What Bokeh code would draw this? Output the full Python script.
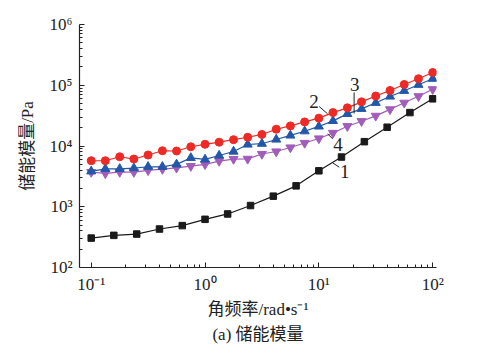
from bokeh.plotting import figure
from bokeh.models import Range1d, FixedTicker, CustomJSTickFormatter, Title
from bokeh.core.properties import value
from bokeh.embed import file_html
from bokeh.resources import INLINE

# ---- data ----
freq_fine = [0.1, 0.133, 0.178, 0.237, 0.316, 0.422, 0.562, 0.750, 1.0, 1.33, 1.78, 2.37,
             3.16, 4.22, 5.62, 7.50, 10.0, 13.3, 17.8, 23.7, 31.6, 42.2, 56.2, 75.0, 100.0]
freq_coarse = [0.1, 0.158, 0.251, 0.398, 0.631, 1.0, 1.58, 2.51, 3.98, 6.31, 10.0, 15.8,
               25.1, 39.8, 63.1, 100.0]

g1 = [305, 338, 355, 430, 489, 621, 761, 1047, 1494, 2207, 3906, 6580, 11780, 20370,
      35500, 59800]
g2 = [3830, 4200, 4200, 4330, 4550, 4550, 4990, 6380, 6010, 6970, 8110, 10590, 10910,
      12800, 14920, 17500, 20990, 25880, 33800, 40900, 51400, 65300, 81100, 101900, 128000]
g3 = [5720, 5720, 6650, 6100, 7100, 8360, 8270, 9710, 10670, 11560, 12710, 13930, 15490,
      18880, 21420, 24930, 28710, 35500, 42460, 53340, 66550, 82040, 103100, 128000, 162200]
g4 = [3720, 3540, 3720, 3720, 3970, 4170, 4380, 4670, 4990, 5650, 6100, 6140, 7380, 8110,
      9440, 11210, 13300, 16400, 21170, 25590, 31330, 40090, 51400, 65800, 85900]

x_major = [0.1, 1, 10, 100]
y_major = [1e2, 1e3, 1e4, 1e5, 1e6]

series_names = ["1", "2", "3", "4"]
# annotation labels (data coords) and leader lines
lab_x = [16.9, 9.04, 20.7, 14.7]
lab_y = [3800, 54100, 103000, 10600]
lead_x0 = [13.2, 10.06, 20.4, 11.93]
lead_y0 = [5290, 44700, 76000, 15900]
lead_x1 = [15.1, 11.93, 20.4, 13.2]
lead_y1 = [4480, 33900, 34300, 13100]

SERIF = "'Liberation Serif', 'Noto Sans CJK SC', serif"

p = figure(width=499, height=351, x_axis_type="log", y_axis_type="log",
           x_range=Range1d(0.0789, 108), y_range=Range1d(100, 1e6),
           output_backend="svg", toolbar_location=None,
           min_border_left=79, min_border_right=63, min_border_top=24, min_border_bottom=84)
p.outline_line_color = None
p.grid.visible = False
p.background_fill_color = "white"
p.border_fill_color = "white"

x_minor = [m * d for d in [0.1, 1, 10] for m in range(2, 10)]
y_minor = [m * d for d in [1e2, 1e3, 1e4, 1e5] for m in range(2, 10)]
p.xaxis.ticker = FixedTicker(ticks=x_major, minor_ticks=x_minor)
p.yaxis.ticker = FixedTicker(ticks=y_major, minor_ticks=y_minor)

fmt_code = """
const e = Math.round(Math.log10(tick));
const sup = {'-':'\u207b','0':'\u2070','1':'\u00b9','2':'\u00b2','3':'\u00b3','4':'\u2074',
             '5':'\u2075','6':'\u2076','7':'\u2077','8':'\u2078','9':'\u2079'};
return '10' + String(e).split('').map(c => sup[c]).join('');
"""
for ax in (p.xaxis[0], p.yaxis[0]):
    ax.formatter = CustomJSTickFormatter(code=fmt_code)
    ax.axis_line_color = "#222222"
    ax.axis_line_width = 1.2
    ax.major_tick_in = 5
    ax.major_tick_out = 0
    ax.minor_tick_in = 3
    ax.minor_tick_out = 0
    ax.major_tick_line_color = "#222222"
    ax.minor_tick_line_color = "#222222"
    ax.major_label_text_font = SERIF
    ax.major_label_text_font_size = "17px"
    ax.major_label_text_color = "#222222"
    ax.axis_label_text_font = SERIF
    ax.axis_label_text_font_size = "17px"
    ax.axis_label_text_font_style = "normal"
    ax.axis_label_text_color = "#222222"

p.xaxis.axis_label = "角频率/rad•s⁻¹"
p.yaxis.axis_label = "储能模量/Pa"
p.xaxis.major_label_standoff = 7
p.xaxis.axis_label_standoff = 3
p.yaxis.major_label_standoff = 7
p.yaxis.axis_label_standoff = 10

# series
p.line(freq_coarse, g1, line_color="#1a1a1a", line_width=1.2)
p.scatter(freq_coarse, g1, marker="square", size=6.5, fill_color="#1a1a1a", line_color="#1a1a1a")

p.line(freq_fine, g4, line_color="#a25cba", line_width=1.2)
p.scatter(freq_fine, g4, marker="inverted_triangle", size=9, fill_color="#a25cba", line_color="#a25cba")

p.line(freq_fine, g2, line_color="#2358a8", line_width=1.2)
p.scatter(freq_fine, g2, marker="triangle", size=9, fill_color="#2358a8", line_color="#2358a8")

p.line(freq_fine, g3, line_color="#ee2a26", line_width=1.2)
p.scatter(freq_fine, g3, marker="circle", size=8, fill_color="#ee2a26", line_color="#ee2a26")

# series labels with leader lines
p.segment(lead_x0, lead_y0, lead_x1, lead_y1, line_color="#222222", line_width=1)
p.text(lab_x, lab_y, text=series_names, text_align="center", text_baseline="middle",
       text_font=value("Liberation Serif"), text_font_size="19px", text_color="#222222")

t = Title(text="(a) 储能模量", align="center", text_font=SERIF, text_font_size="17px",
          text_font_style="normal", text_color="#222222", standoff=2)
p.add_layout(t, "below")

open("out.html", "w").write(file_html(p, INLINE))
